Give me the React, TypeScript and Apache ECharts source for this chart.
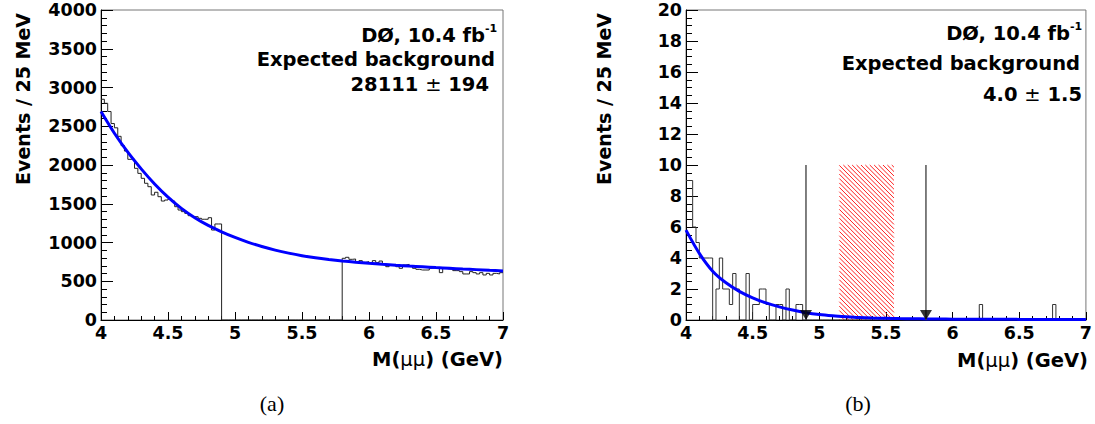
import React, { useEffect, useRef } from "react";
import * as echarts from "echarts";

// ---- binning (25 MeV bins from 4.0 to 7.0 GeV) ----
const X_MIN = 4.0;
const X_MAX = 7.0;
const BIN_WIDTH = 0.025;
const BLINDED_BINS = 36; // 4.9 - 5.8 GeV, no data shown

// ---- panel (a): events per bin, 4.0 - 4.9 GeV ----
const leftLowBins = [
  2848, 2796, 2690, 2535, 2480, 2370, 2250, 2180, 2073, 2073,
  1957, 1892, 1828, 1764, 1720, 1613, 1648, 1591, 1535, 1548,
  1560, 1535, 1462, 1419, 1398, 1376, 1346, 1333, 1333, 1312,
  1300, 1300, 1320, 1161, 1239, 1239,
];
// ---- panel (a): events per bin, 5.8 - 7.0 GeV ----
const leftHighBins = [
  796, 809, 783, 787, 753, 766, 744, 753, 731, 766,
  740, 761, 723, 688, 710, 718, 688, 667, 710, 718,
  701, 667, 654, 645, 645, 645, 667, 675, 667, 611,
  667, 658, 658, 637, 637, 624, 594, 594, 624, 611,
  594, 611, 581, 602, 581, 602, 594, 611,
];

// ---- panel (b): events per bin, 4.0 - 4.9 GeV ----
const rightLowBins = [
  9, 9, 6, 5, 4, 4, 4, 4, 0, 2,
  4, 2, 2, 1, 3, 2, 0, 0, 3, 0,
  1, 1, 2, 2, 1, 0, 0, 1, 1, 0,
  2, 0, 0, 1, 1, 0,
];
// ---- panel (b): events per bin, 5.8 - 7.0 GeV ----
const rightHighBins = [
  0, 0, 0, 0, 0, 0, 0, 0, 0, 0,
  0, 0, 0, 0, 0, 0, 1, 0, 0, 0,
  0, 0, 0, 0, 0, 0, 0, 0, 0, 0,
  0, 0, 0, 0, 0, 0, 0, 0, 1, 0,
  0, 0, 0, 0, 0, 0, 0, 0,
];

// ---- background fits (every 0.1 GeV) ----
const fitX = [
  4.0, 4.1, 4.2, 4.3, 4.4, 4.5, 4.6, 4.7, 4.8, 4.9,
  5.0, 5.1, 5.2, 5.3, 5.4, 5.5, 5.6, 5.7, 5.8, 5.9,
  6.0, 6.1, 6.2, 6.3, 6.4, 6.5, 6.6, 6.7, 6.8, 6.9, 7.0,
];
const leftFitY = [
  2690, 2410, 2165, 1950, 1755, 1585, 1440, 1320, 1220, 1138,
  1065, 1002, 948, 902, 863, 830, 803, 781, 762, 746,
  732, 719, 707, 696, 686, 676, 667, 658, 650, 641, 633,
];
const rightFitY = [
  5.8, 4.3, 3.15, 2.4, 1.85, 1.43, 1.1, 0.85, 0.64, 0.47,
  0.35, 0.27, 0.21, 0.16, 0.13, 0.11, 0.09, 0.08, 0.07, 0.06,
  0.055, 0.05, 0.05, 0.045, 0.045, 0.04, 0.04, 0.04, 0.04, 0.04, 0.04,
];

// ---- cuts and signal window for panel (b) ----
const cutPositions = [4.9, 5.8];
const cutLineTop = 10;
const signalWindow = [5.15, 5.56, 0, 10]; // xLow, xHigh, yLow, yHigh

// ---- texts ----
const leftInfo = ["DØ, 10.4 fb", "Expected background", "28111", "194"];
const rightInfo = ["DØ, 10.4 fb", "Expected background", "4.0", "1.5"];
const yTitle = "Events / 25 MeV";

function buildHist(low: number[], high: number[]) {
  const counts = [...low, ...new Array(BLINDED_BINS).fill(0), ...high];
  const pts: number[][] = counts.map((c, i) => [+(X_MIN + i * BIN_WIDTH).toFixed(3), c]);
  pts.push([X_MAX, counts[counts.length - 1]]);
  return pts;
}

const SANS = "DejaVu Sans";
const TICK_FS = 17.5;
const TITLE_FS = 19.5;

function xAxisCfg(gridIndex: number) {
  return {
    gridIndex,
    type: "value",
    min: X_MIN,
    max: X_MAX,
    interval: 0.5,
    axisLine: { show: true, onZero: false, lineStyle: { color: "#000", width: 1 } },
    axisTick: { show: true, inside: true, length: 8, lineStyle: { color: "#000", width: 1 } },
    minorTick: { show: true, splitNumber: 5, length: 4, lineStyle: { color: "#000", width: 1 } },
    splitLine: { show: false },
    minorSplitLine: { show: false },
    axisLabel: {
      color: "#000",
      fontFamily: SANS,
      fontWeight: "bold",
      fontSize: TICK_FS,
      margin: 4,
      showMinLabel: true,
      showMaxLabel: true,
      formatter: (v: number) => String(v),
    },
  };
}

function yAxisCfg(gridIndex: number, max: number, interval: number, minorSplit: number) {
  return {
    gridIndex,
    type: "value",
    min: 0,
    max,
    interval,
    axisLine: { show: true, onZero: false, lineStyle: { color: "#000", width: 1 } },
    axisTick: { show: true, inside: true, length: 12, lineStyle: { color: "#000", width: 1 } },
    minorTick: { show: true, splitNumber: minorSplit, length: 6, lineStyle: { color: "#000", width: 1 } },
    splitLine: { show: false },
    minorSplitLine: { show: false },
    axisLabel: {
      color: "#000",
      fontFamily: SANS,
      fontWeight: "bold",
      fontSize: TICK_FS,
      margin: 4,
      showMinLabel: true,
      showMaxLabel: true,
      formatter: (v: number) => String(v),
    },
  };
}

function txt(x: number, y: number, text: string, align: string, fs: number, extra: any = {}) {
  return {
    type: "text",
    x,
    y,
    silent: true,
    style: {
      text,
      fill: "#000",
      fontFamily: SANS,
      fontWeight: "bold",
      fontSize: fs,
      align,
      textAlign: align,
      verticalAlign: "middle",
      textVerticalAlign: "middle",
      ...extra,
    },
  };
}

function richPm(x: number, y: number, a: string, b: string) {
  return {
    type: "text",
    x,
    y,
    silent: true,
    style: {
      text: `{b|${a} }{p|±}{b| ${b}}`,
      align: "right",
      textAlign: "right",
      verticalAlign: "middle",
      textVerticalAlign: "middle",
      fontFamily: SANS,
      fontSize: TITLE_FS,
      fill: "#000",
      rich: {
        b: { fontFamily: SANS, fontWeight: "bold", fontSize: TITLE_FS, fill: "#000", color: "#000" },
        p: { fontFamily: SANS, fontWeight: "normal", fontSize: TITLE_FS, fill: "#000", color: "#000" },
      },
    },
  };
}

function xTitle(x: number, y: number) {
  return {
    type: "text",
    x,
    y,
    silent: true,
    style: {
      text: "{b|M(}{m|μμ}{b|) (GeV)}",
      align: "right",
      textAlign: "right",
      verticalAlign: "middle",
      textVerticalAlign: "middle",
      fontFamily: SANS,
      fontSize: TITLE_FS,
      fill: "#000",
      rich: {
        b: { fontFamily: SANS, fontWeight: "bold", fontSize: TITLE_FS, fill: "#000", color: "#000" },
        m: { fontFamily: SANS, fontWeight: "normal", fontSize: TITLE_FS, fill: "#000", color: "#000" },
      },
    },
  };
}

function yTitleEl(x: number, y: number) {
  return {
    type: "text",
    x,
    y,
    rotation: Math.PI / 2,
    silent: true,
    style: {
      text: yTitle,
      fill: "#000",
      fontFamily: SANS,
      fontWeight: "bold",
      fontSize: 19,
      align: "right",
      textAlign: "right",
      verticalAlign: "middle",
      textVerticalAlign: "middle",
    },
  };
}

function caption(x: number, text: string) {
  return {
    type: "text",
    x,
    y: 403,
    silent: true,
    style: {
      text,
      fill: "#000",
      fontFamily: "Liberation Serif",
      fontSize: 22,
      align: "center",
      textAlign: "center",
      verticalAlign: "middle",
      textVerticalAlign: "middle",
    },
  };
}

export default function App() {
  const ref = useRef<HTMLDivElement>(null);

  useEffect(() => {
    if (!ref.current) return;
    const chart = echarts.init(ref.current, undefined, { renderer: "svg" });

    const leftHist = buildHist(leftLowBins, leftHighBins);
    const rightHist = buildHist(rightLowBins, rightHighBins);
    const leftFit = fitX.map((x, i) => [x, leftFitY[i]]);
    const rightFit = fitX.map((x, i) => [x, rightFitY[i]]);

    const gridCommon = { show: true, borderColor: "#777", borderWidth: 1, backgroundColor: "transparent", containLabel: false };

    const option: any = {
      animation: false,
      backgroundColor: "#fff",
      grid: [
        { left: 101, top: 10, width: 402, height: 310, ...gridCommon },
        { left: 686, top: 10, width: 401, height: 310, ...gridCommon },
      ],
      xAxis: [xAxisCfg(0), xAxisCfg(1)],
      yAxis: [yAxisCfg(0, 4000, 500, 5), yAxisCfg(1, 20, 2, 4)],
      series: [
        {
          type: "line",
          xAxisIndex: 0,
          yAxisIndex: 0,
          data: leftHist,
          step: "end",
          symbol: "none",
          lineStyle: { color: "#222", width: 1 },
          z: 3,
        },
        {
          type: "line",
          xAxisIndex: 0,
          yAxisIndex: 0,
          data: leftFit,
          smooth: 0.3,
          symbol: "none",
          lineStyle: { color: "#0000ff", width: 3 },
          z: 4,
        },
        {
          type: "custom",
          xAxisIndex: 1,
          yAxisIndex: 1,
          coordinateSystem: "cartesian2d",
          data: [signalWindow],
          encode: { x: [0, 1], y: [2, 3] },
          z: 2,
          renderItem: (params: any, api: any) => {
            const p0 = api.coord([api.value(0), api.value(3)]);
            const p1 = api.coord([api.value(1), api.value(2)]);
            const x0 = p0[0], y0 = p0[1], x1 = p1[0], y1 = p1[1];
            const children: any[] = [];
            const step = 4.4;
            for (let c = y0 - x1 + step / 2; c < y1 - x0; c += step) {
              const xa = Math.max(x0, y0 - c);
              const xb = Math.min(x1, y1 - c);
              if (xb > xa) {
                children.push({
                  type: "line",
                  shape: { x1: xa, y1: xa + c, x2: xb, y2: xb + c },
                  style: { stroke: "#ff2020", lineWidth: 1 },
                });
              }
            }
            return { type: "group", children };
          },
        },
        {
          type: "line",
          xAxisIndex: 1,
          yAxisIndex: 1,
          data: rightHist,
          step: "end",
          symbol: "none",
          lineStyle: { color: "#333", width: 1 },
          z: 3,
        },
        {
          type: "line",
          xAxisIndex: 1,
          yAxisIndex: 1,
          data: rightFit,
          smooth: 0.3,
          symbol: "none",
          lineStyle: { color: "#0000ff", width: 3 },
          z: 4,
        },
        ...cutPositions.map((c) => ({
          type: "line",
          xAxisIndex: 1,
          yAxisIndex: 1,
          data: [
            [c, 0],
            [c, cutLineTop],
          ],
          symbol: "none",
          lineStyle: { color: "#555", width: 1.5 },
          z: 5,
        })),
        {
          type: "scatter",
          xAxisIndex: 1,
          yAxisIndex: 1,
          data: cutPositions.map((c) => [c, 0]),
          symbol: "triangle",
          symbolRotate: 180,
          symbolSize: [12, 10],
          symbolOffset: [0, -5],
          itemStyle: { color: "#000" },
          z: 6,
        },
      ],
      graphic: [
        // panel (a)
        txt(485, 35, leftInfo[0], "right", TITLE_FS),
        txt(485, 28, "-1", "left", 11),
        txt(495, 59, leftInfo[1], "right", TITLE_FS),
        richPm(489, 84, leftInfo[2], leftInfo[3]),
        xTitle(503, 359),
        yTitleEl(23, 13),
        // panel (b)
        txt(1070, 33, rightInfo[0], "right", TITLE_FS),
        txt(1070, 26, "-1", "left", 11),
        txt(1080, 63, rightInfo[1], "right", TITLE_FS),
        richPm(1082, 94, rightInfo[2], rightInfo[3]),
        xTitle(1088, 360),
        yTitleEl(604, 13),
        // captions
        caption(272, "(a)"),
        caption(858, "(b)"),
      ],
    };

    chart.setOption(option);
    return () => {
      chart.dispose();
    };
  }, []);

  return (
    <div
      ref={ref}
      style={{ position: "absolute", left: 0, top: 0, width: 1095, height: 424, background: "#fff" }}
    />
  );
}
